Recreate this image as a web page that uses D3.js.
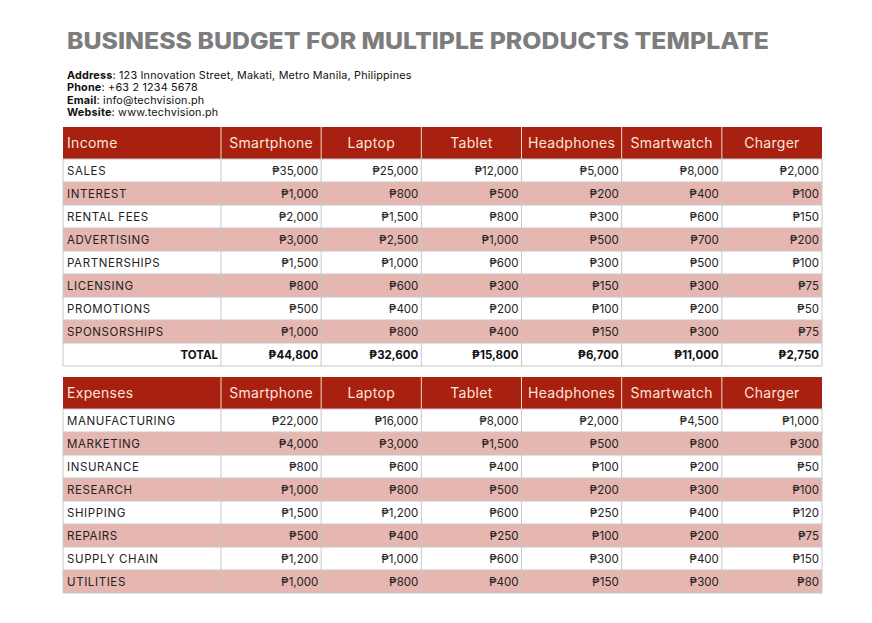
<!DOCTYPE html>
<html><head><meta charset="utf-8">
<script src="https://cdn.jsdelivr.net/npm/d3@7"></script>
<style>
html,body{margin:0;padding:0;background:#fff;}
svg{display:block;}
</style></head>
<body>
<script>
const title = "BUSINESS BUDGET FOR MULTIPLE PRODUCTS TEMPLATE";
const contactLabels = ["Address", "Phone", "Email", "Website"];
const contactValues = ["123 Innovation Street, Makati, Metro Manila, Philippines", "+63 2 1234 5678", "info@techvision.ph", "www.techvision.ph"];
const products = ["Smartphone", "Laptop", "Tablet", "Headphones", "Smartwatch", "Charger"];
const incomeCategories = ["SALES", "INTEREST", "RENTAL FEES", "ADVERTISING", "PARTNERSHIPS", "LICENSING", "PROMOTIONS", "SPONSORSHIPS"];
const incomeValues = [
  [35000, 25000, 12000, 5000, 8000, 2000],
  [1000, 800, 500, 200, 400, 100],
  [2000, 1500, 800, 300, 600, 150],
  [3000, 2500, 1000, 500, 700, 200],
  [1500, 1000, 600, 300, 500, 100],
  [800, 600, 300, 150, 300, 75],
  [500, 400, 200, 100, 200, 50],
  [1000, 800, 400, 150, 300, 75]
];
const incomeTotals = [44800, 32600, 15800, 6700, 11000, 2750];
const expenseCategories = ["MANUFACTURING", "MARKETING", "INSURANCE", "RESEARCH", "SHIPPING", "REPAIRS", "SUPPLY CHAIN", "UTILITIES"];
const expenseValues = [
  [22000, 16000, 8000, 2000, 4500, 1000],
  [4000, 3000, 1500, 500, 800, 300],
  [800, 600, 400, 100, 200, 50],
  [1000, 800, 500, 200, 300, 100],
  [1500, 1200, 600, 250, 400, 120],
  [500, 400, 250, 100, 200, 75],
  [1200, 1000, 600, 300, 400, 150],
  [1000, 800, 400, 150, 300, 80]
];

const W = 872, H = 623;
const FONT = "Inter, 'Noto Sans', 'DejaVu Sans', sans-serif";
const svg = d3.select("body").append("svg").attr("width", W).attr("height", H)
  .style("font-family", FONT);

svg.append("text").attr("x", 67).attr("y", 49)
  .attr("font-size", 22.5).attr("font-weight", 800).attr("fill", "#7d7d7d")
  .attr("textLength", 702).attr("lengthAdjust", "spacingAndGlyphs")
  .text(title);

const info = svg.append("g");
contactLabels.forEach((lab, i) => {
  const t = info.append("text").attr("x", 67).attr("y", 79 + i * 12.3)
    .attr("font-size", 10.8).attr("letter-spacing", 0.2).attr("fill", "#111");
  t.append("tspan").attr("font-weight", 700).text(lab);
  t.append("tspan").attr("font-weight", 400).text(": " + contactValues[i]);
});

const fmt = v => "\u20B1" + d3.format(",")(v);
const xLeft = 63, xLabelRight = 221, xRight = 822;
const xCol = d3.scaleBand().domain(products).range([xLabelRight, xRight]).padding(0);

const HEAD = "#a8200f", PINK = "#e6b6b1", GRID = "#c8c8c8", HEADTXT = "#fbe6d8";

function drawTable(top, headLabel, cats, vals, totals) {
  const g = svg.append("g");
  const headH = 32, rowH = 23;
  const nRows = cats.length + (totals ? 1 : 0);
  const y = d3.scaleBand().domain(d3.range(nRows)).range([top + headH, top + headH + nRows * rowH]);
  g.append("rect").attr("x", xLeft).attr("y", top).attr("width", xRight - xLeft).attr("height", headH).attr("fill", HEAD);
  g.selectAll(".hsep").data(products).join("line")
    .attr("x1", d => xCol(d)).attr("x2", d => xCol(d))
    .attr("y1", top).attr("y2", top + headH).attr("stroke", "#f3d9c4").attr("stroke-width", 1);
  g.append("text").attr("x", xLeft + 4).attr("y", top + headH / 2 + 5)
    .attr("font-size", 14).attr("letter-spacing", 0.3).attr("fill", HEADTXT).text(headLabel);
  g.selectAll(".htxt").data(products).join("text")
    .attr("x", d => xCol(d) + xCol.bandwidth() / 2).attr("y", top + headH / 2 + 5)
    .attr("text-anchor", "middle").attr("font-size", 14).attr("letter-spacing", 0.3).attr("fill", HEADTXT).text(d => d);
  const rows = g.selectAll(".row").data(cats).join("g").attr("transform", (d, i) => `translate(0,${y(i)})`);
  rows.append("rect").attr("x", xLeft).attr("width", xRight - xLeft).attr("height", rowH)
    .attr("fill", (d, i) => i % 2 ? PINK : "#fff");
  rows.append("text").attr("x", xLeft + 4).attr("y", rowH / 2 + 4.5)
    .attr("font-size", 11.5).attr("letter-spacing", 0.6).attr("fill", "#222").text(d => d);
  rows.each(function(d, i) {
    d3.select(this).selectAll(".v").data(vals[i]).join("text")
      .attr("x", (v, j) => xCol(products[j]) + xCol.bandwidth() - 3).attr("y", rowH / 2 + 4.5)
      .attr("text-anchor", "end").attr("font-size", 11.5).attr("fill", "#222").text(v => fmt(v));
  });
  if (totals) {
    const ty = y(cats.length);
    g.append("rect").attr("x", xLeft).attr("y", ty).attr("width", xRight - xLeft).attr("height", rowH).attr("fill", "#fff");
    g.append("text").attr("x", xLabelRight - 3).attr("y", ty + rowH / 2 + 4.5).attr("text-anchor", "end")
      .attr("font-size", 11.5).attr("font-weight", 700).attr("fill", "#111").text("TOTAL");
    g.selectAll(".tv").data(totals).join("text")
      .attr("x", (v, j) => xCol(products[j]) + xCol.bandwidth() - 3).attr("y", ty + rowH / 2 + 4.5)
      .attr("text-anchor", "end").attr("font-size", 11.5).attr("font-weight", 700).attr("fill", "#111").text(v => fmt(v));
  }
  const bodyTop = top + headH, bodyBot = top + headH + nRows * rowH;
  d3.range(nRows + 1).forEach(i => {
    const yy = (i < nRows ? y(i) : bodyBot);
    g.append("line").attr("x1", xLeft).attr("x2", xRight).attr("y1", yy).attr("y2", yy).attr("stroke", GRID).attr("stroke-width", 1);
  });
  [xLeft].concat(products.map(p => xCol(p)), [xRight]).forEach(xx => {
    g.append("line").attr("x1", xx).attr("x2", xx).attr("y1", bodyTop).attr("y2", bodyBot).attr("stroke", GRID).attr("stroke-width", 1);
  });
}

drawTable(127, "Income", incomeCategories, incomeValues, incomeTotals);
drawTable(377, "Expenses", expenseCategories, expenseValues, null);
</script>
</body></html>
